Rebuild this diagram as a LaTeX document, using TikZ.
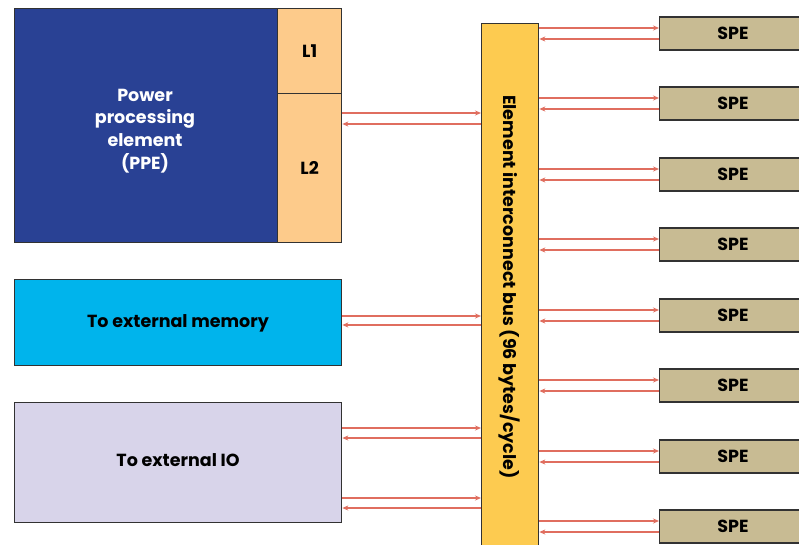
\documentclass[tikz,border=0pt]{standalone}
\usepackage{fontspec}
\setmainfont{Poppins}
\usetikzlibrary{arrows.meta}
\definecolor{ppeblue}{RGB}{41,65,148}
\definecolor{cachec}{RGB}{253,203,139}
\definecolor{memc}{RGB}{0,180,236}
\definecolor{ioc}{RGB}{216,212,234}
\definecolor{busc}{RGB}{253,203,80}
\definecolor{spec}{RGB}{200,187,147}
\definecolor{linkc}{RGB}{224,110,95}
\definecolor{edgec}{RGB}{50,50,50}
\tikzset{
  blk/.style={draw=edgec, line width=1.3pt, inner sep=0pt, font=\bfseries\fontsize{17.5}{19}\selectfont},
  lbl/.style={font=\bfseries\fontsize{17.5}{19}\selectfont},
  link/.style={draw=linkc, line width=1.4pt, -{Stealth[length=6pt,width=5pt]}},
}
\begin{document}
\begin{tikzpicture}[x=1pt,y=-1pt]
\useasboundingbox (0,0) rectangle (799,545);
\clip (0,0) rectangle (799,545);
\fill[white] (0,0) rectangle (799,545);
% processor core with its caches
\node[blk, fill=ppeblue, minimum width=263pt, minimum height=234pt, anchor=north west] (ppe) at (14,8) {};
\node[lbl, text=white, align=center, font=\bfseries\fontsize{17.5}{22.7}\selectfont] (ppelbl) at (145,131)
      {Power\\processing\\element\\(PPE)};
\node[blk, fill=cachec, minimum width=64pt, minimum height=85pt, anchor=north west] (l1) at (277,8) {L1};
\node[blk, fill=cachec, minimum width=64pt, minimum height=149pt, anchor=north west] (l2) at (277,93) {L2};
% off-chip interfaces
\node[blk, fill=memc, minimum width=327pt, minimum height=86pt, anchor=north west] (mem) at (14,279) {};
\node[lbl] (memlbl) at (178,323) {To external memory};
\node[blk, fill=ioc, minimum width=327pt, minimum height=120pt, anchor=north west] (io) at (14,402) {};
\node[lbl] (iolbl) at (178,460) {To external IO};
% ring bus
\node[blk, fill=busc, minimum width=57pt, minimum height=530pt, anchor=north west] (bus) at (481,23) {};
\node[lbl, rotate=-90] (buslbl) at (509.5,287)
      {Element interconnect bus (96 bytes/cycle)};
% synergistic elements
\foreach \i/\y in {1/33.5,2/103.5,3/174.5,4/244.5,5/315.5,6/385.5,7/456.5,8/526.5}{
  \node[blk, fill=spec, minimum width=150pt, minimum height=33pt, anchor=west] (spe\i) at (659,\y) {};
  \node[lbl] (spelbl\i) at (733,\y) {SPE};
  \draw[link] (bus.east |- 0,\y-5.5) -- (spe\i.west |- 0,\y-5.5);
  \draw[link] (spe\i.west |- 0,\y+5.5) -- (bus.east |- 0,\y+5.5);
}
% links to the left-hand blocks
\draw[link] (l2.east |- 0,113) -- (bus.west |- 0,113);
\draw[link] (bus.west |- 0,124) -- (l2.east |- 0,124);
\draw[link] (mem.east |- 0,316) -- (bus.west |- 0,316);
\draw[link] (bus.west |- 0,325) -- (mem.east |- 0,325);
\draw[link] (io.east |- 0,428) -- (bus.west |- 0,428);
\draw[link] (bus.west |- 0,438) -- (io.east |- 0,438);
\draw[link] (io.east |- 0,498) -- (bus.west |- 0,498);
\draw[link] (bus.west |- 0,508) -- (io.east |- 0,508);
\end{tikzpicture}
\end{document}
